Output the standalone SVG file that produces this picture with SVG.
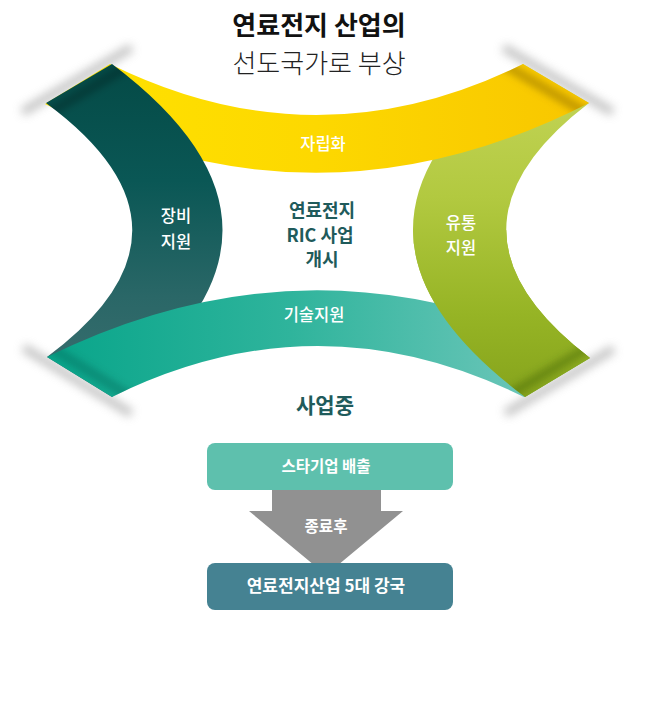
<svg xmlns="http://www.w3.org/2000/svg" xmlns:xlink="http://www.w3.org/1999/xlink" width="646" height="704" viewBox="0 0 646 704">
<style>
.kr{font-family:"Noto Sans CJK KR","Noto Sans",sans-serif;}
.title1{font-size:26px;font-weight:700;fill:#111;}
.title2{font-size:26px;font-weight:300;fill:#222;}
.band{font-size:16.5px;font-weight:500;fill:#fff;}
.center{font-size:18px;font-weight:700;fill:#1f5b5b;}
.status{font-size:21px;font-weight:700;fill:#1f5b5b;}
.box{font-size:15.5px;font-weight:700;fill:#fff;}
.shadow{fill:#9a9a9a;opacity:0.6;filter:url(#blur5);}
.crease{fill:none;stroke-width:10;filter:url(#blur3);}
</style>
<defs>
<filter id="blur5" x="-50%" y="-50%" width="200%" height="200%"><feGaussianBlur stdDeviation="5"/></filter>
<filter id="blur3" x="-50%" y="-50%" width="200%" height="200%"><feGaussianBlur stdDeviation="3.5"/></filter>
<linearGradient id="gY" gradientUnits="userSpaceOnUse" x1="45" y1="0" x2="589" y2="0">
<stop offset="0" stop-color="#ffe300"/><stop offset="0.5" stop-color="#fdd800"/><stop offset="1" stop-color="#f8c600"/>
</linearGradient>
<linearGradient id="gD" gradientUnits="userSpaceOnUse" x1="0" y1="64" x2="0" y2="397">
<stop offset="0" stop-color="#044a46"/><stop offset="0.35" stop-color="#0a5755"/><stop offset="0.7" stop-color="#2a6767"/><stop offset="1" stop-color="#3c6f70"/>
</linearGradient>
<linearGradient id="gG" gradientUnits="userSpaceOnUse" x1="0" y1="64" x2="0" y2="397">
<stop offset="0" stop-color="#c6d65a"/><stop offset="0.4" stop-color="#b2c940"/><stop offset="0.75" stop-color="#96b425"/><stop offset="1" stop-color="#86a41c"/>
</linearGradient>
<linearGradient id="gT" gradientUnits="userSpaceOnUse" x1="47" y1="0" x2="589" y2="0">
<stop offset="0" stop-color="#08a58a"/><stop offset="0.45" stop-color="#2fb49c"/><stop offset="0.9" stop-color="#6cc6b9"/><stop offset="1" stop-color="#72c8bc"/>
</linearGradient>
<path id="pY" d="M110,64 Q316.5,166 523,64 L589,103 Q317,242 45,104 Z"/>
<path id="pD" d="M112,64 L46,103 Q218,230 47,357 L112,397 Q333,230 112,64 Z"/>
<path id="pT" d="M47,357 L112,397 Q318,295 524,397 L589,358 Q318,223 47,357 Z"/>
<path id="pG" d="M523,64 L589,103 Q423,230 590,358 L525,397 Q302,230 523,64 Z"/>
<clipPath id="cY"><use xlink:href="#pY"/></clipPath>
<clipPath id="cD"><use xlink:href="#pD"/></clipPath>
<clipPath id="cT"><use xlink:href="#pT"/></clipPath>
<clipPath id="cG"><use xlink:href="#pG"/></clipPath>
<clipPath id="lowerHalf"><rect x="0" y="230" width="646" height="474"/></clipPath>
</defs>
<rect width="646" height="704" fill="#fff"/>
<g id="title">
<text class="kr title1" x="319" y="35" text-anchor="middle">연료전지 산업의</text>
<text class="kr title2" x="319" y="73" text-anchor="middle">선도국가로 부상</text>
</g>
<g id="shadows">
<polygon class="shadow" points="133.5,51.25 24.5,115.75 20.4,108.4 129.4,43.9"/>
<polygon class="shadow" points="501.5,51.25 610.5,115.75 614.6,108.4 505.6,43.9"/>
<polygon class="shadow" points="25.7,344 133.3,410 129.1,417.2 21.5,351.2"/>
<polygon class="shadow" points="611.5,345.25 503.5,409.75 507.6,417 615.6,352.6"/>
</g>
<g id="band-yutong">
<use xlink:href="#pG" fill="url(#gG)"/>
<g clip-path="url(#cG)"><line class="crease" x1="606.4" y1="336.65" x2="498.4" y2="401.15" stroke="#3c5a00" stroke-opacity="0.38"/></g>
</g>
<g id="band-jaripwha">
<use xlink:href="#pY" fill="url(#gY)"/>
<g clip-path="url(#cY)"><line class="crease" x1="496.4" y1="59.85" x2="605.4" y2="124.35" stroke="#7a5c00" stroke-opacity="0.4"/></g>
</g>
<g id="band-jangbi">
<use xlink:href="#pD" fill="url(#gD)"/>
<g clip-path="url(#cD)"><line class="crease" x1="138.6" y1="59.85" x2="29.6" y2="124.35" stroke="#000" stroke-opacity="0.22"/></g>
</g>
<g id="band-gisul">
<use xlink:href="#pT" fill="url(#gT)"/>
<g clip-path="url(#cT)"><line class="crease" x1="30.9" y1="335.5" x2="138.5" y2="401.5" stroke="#00584a" stroke-opacity="0.33"/></g>
</g>
<g id="band-yutong-front" clip-path="url(#lowerHalf)">
<use xlink:href="#band-yutong"/>
</g>
<g id="band-labels">
<text class="kr band" x="323" y="150" text-anchor="middle">자립화</text>
<text class="kr band" x="176" y="222" text-anchor="middle">장비</text>
<text class="kr band" x="176" y="248" text-anchor="middle">지원</text>
<text class="kr band" x="461" y="229" text-anchor="middle">유통</text>
<text class="kr band" x="461" y="254" text-anchor="middle">지원</text>
<text class="kr band" x="314" y="321" text-anchor="middle">기술지원</text>
</g>
<g id="center-label">
<text class="kr center" x="322" y="217" text-anchor="middle">연료전지</text>
<text class="kr center" x="320" y="242" text-anchor="middle">RIC 사업</text>
<text class="kr center" x="322" y="266" text-anchor="middle">개시</text>
</g>
<g id="status">
<text class="kr status" x="325" y="413" text-anchor="middle">사업중</text>
</g>
<g id="connectors">
<polygon points="272,490 381,490 381,511 403,511 326,575 249,511 272,511" fill="#919191"/>
<text class="kr box" x="326" y="532" text-anchor="middle">종료후</text>
</g>
<g id="node-star">
<rect x="207" y="443" width="246" height="47" rx="8" fill="#5ec0ad"/>
<text class="kr box" x="326" y="472" text-anchor="middle">스타기업 배출</text>
</g>
<g id="node-power">
<rect x="207" y="563" width="246" height="47" rx="8" fill="#458292"/>
<text class="kr box" x="326" y="592" text-anchor="middle" style="font-size:17px">연료전지산업 5대 강국</text>
</g>
</svg>
